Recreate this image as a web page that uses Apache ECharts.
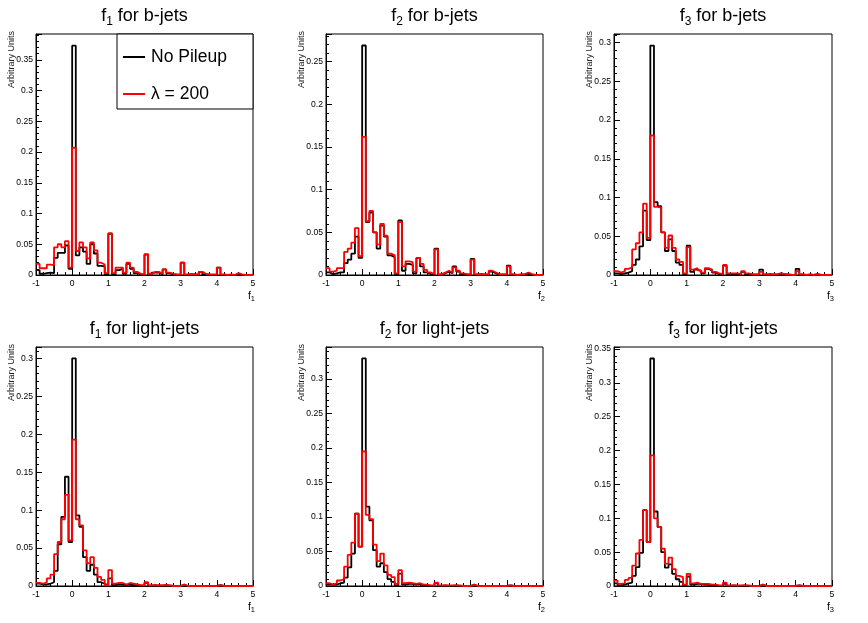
<!DOCTYPE html>
<html>
<head>
<meta charset="utf-8">
<script src="https://cdn.jsdelivr.net/npm/echarts@6/dist/echarts.min.js"></script>
<style>html,body{margin:0;padding:0;background:#fff}#c{width:868px;height:623px}</style>
</head>
<body>
<div id="c"></div>
<script>
// ---------- data ----------
const binEdges = Array.from({length: 61}, (_, i) => Math.round((-1 + i * 0.1) * 10) / 10);
const xTickLabels = ['-1', '0', '1', '2', '3', '4', '5'];
const seriesNames = ['No Pileup', 'λ = 200'];
const panelVars = ['1', '2', '3', '1', '2', '3'];
const panelJets = ['for b-jets', 'for b-jets', 'for b-jets', 'for light-jets', 'for light-jets', 'for light-jets'];
const yAxisMax = [0.392, 0.2825, 0.311, 0.315, 0.3465, 0.353];

const f1bNoPU = [0.008,0.002,0.003,0.004,0.003,0.028,0.036,0.036,0.048,0.010,
  0.373,0.032,0.045,0.038,0.018,0.050,0.035,0.015,0.014,0.001,
  0.067,0.001,0.008,0.010,0.002,0.018,0.010,0.003,0.001,0.000,
  0.033,0.000,0.004,0.004,0.001,0.009,0.003,0.001,0.000,0.000,
  0.020,0.000,0.001,0.001,0.000,0.005,0.001,0.000,0.000,0.000,
  0.012,0.000,0.000,0.000,0.000,0.002,0.000,0.000,0.000,0.000];
const f1bPU = [0.018,0.011,0.011,0.017,0.016,0.045,0.050,0.045,0.055,0.012,
  0.207,0.039,0.053,0.045,0.027,0.053,0.040,0.020,0.017,0.003,
  0.068,0.003,0.012,0.012,0.004,0.020,0.012,0.005,0.002,0.001,
  0.034,0.002,0.005,0.005,0.002,0.009,0.004,0.002,0.001,0.001,
  0.020,0.001,0.002,0.001,0.001,0.005,0.002,0.001,0.001,0.001,
  0.012,0.001,0.000,0.001,0.000,0.003,0.001,0.000,0.000,0.000];

const f2bNoPU = [0.003,0.001,0.002,0.003,0.003,0.014,0.018,0.025,0.045,0.020,
  0.269,0.062,0.073,0.050,0.031,0.058,0.045,0.023,0.021,0.001,
  0.064,0.005,0.013,0.012,0.002,0.020,0.010,0.003,0.001,0.000,
  0.031,0.000,0.002,0.004,0.002,0.010,0.004,0.001,0.000,0.000,
  0.019,0.000,0.001,0.000,0.000,0.004,0.002,0.000,0.000,0.000,
  0.011,0.000,0.000,0.000,0.000,0.002,0.000,0.000,0.000,0.000];
const f2bPU = [0.008,0.004,0.005,0.008,0.008,0.027,0.031,0.038,0.055,0.022,
  0.162,0.063,0.075,0.050,0.036,0.060,0.046,0.025,0.023,0.002,
  0.062,0.010,0.016,0.015,0.004,0.020,0.013,0.006,0.003,0.001,
  0.030,0.001,0.003,0.005,0.003,0.009,0.005,0.002,0.001,0.001,
  0.018,0.001,0.001,0.001,0.001,0.005,0.003,0.001,0.001,0.001,
  0.010,0.001,0.000,0.001,0.001,0.003,0.001,0.000,0.000,0.000];

const f3bNoPU = [0.002,0.001,0.002,0.003,0.005,0.013,0.020,0.037,0.083,0.045,
  0.296,0.094,0.089,0.055,0.031,0.046,0.031,0.016,0.013,0.001,
  0.038,0.004,0.007,0.005,0.002,0.008,0.006,0.003,0.001,0.000,
  0.012,0.001,0.001,0.001,0.001,0.004,0.001,0.000,0.000,0.000,
  0.007,0.000,0.001,0.000,0.000,0.002,0.001,0.000,0.000,0.000,
  0.008,0.000,0.000,0.000,0.000,0.001,0.000,0.000,0.000,0.000];
const f3bPU = [0.005,0.003,0.005,0.008,0.010,0.033,0.041,0.055,0.092,0.048,
  0.180,0.088,0.087,0.055,0.035,0.051,0.035,0.020,0.017,0.002,
  0.036,0.007,0.009,0.006,0.003,0.009,0.007,0.004,0.002,0.001,
  0.013,0.002,0.002,0.002,0.001,0.005,0.002,0.001,0.001,0.001,
  0.004,0.001,0.001,0.001,0.001,0.002,0.001,0.001,0.000,0.000,
  0.005,0.001,0.000,0.001,0.000,0.001,0.000,0.000,0.000,0.000];

const f1lNoPU = [0.003,0.002,0.002,0.003,0.005,0.020,0.055,0.091,0.144,0.058,
  0.300,0.093,0.078,0.038,0.020,0.028,0.015,0.005,0.003,0.001,
  0.010,0.001,0.002,0.002,0.001,0.002,0.001,0.001,0.000,0.000,
  0.004,0.000,0.001,0.000,0.000,0.001,0.000,0.000,0.000,0.000,
  0.002,0.000,0.000,0.000,0.000,0.000,0.000,0.000,0.000,0.000,
  0.001,0.000,0.000,0.000,0.000,0.000,0.000,0.000,0.000,0.000];
const f1lPU = [0.004,0.003,0.005,0.010,0.015,0.042,0.058,0.088,0.120,0.060,
  0.193,0.088,0.080,0.047,0.030,0.038,0.024,0.012,0.008,0.001,
  0.021,0.003,0.004,0.004,0.002,0.004,0.003,0.002,0.001,0.001,
  0.005,0.001,0.001,0.001,0.001,0.001,0.001,0.000,0.000,0.000,
  0.002,0.000,0.000,0.000,0.000,0.000,0.000,0.000,0.000,0.000,
  0.001,0.000,0.000,0.000,0.000,0.000,0.000,0.000,0.000,0.000];

const f2lNoPU = [0.002,0.002,0.002,0.004,0.005,0.012,0.027,0.047,0.105,0.057,
  0.330,0.115,0.095,0.052,0.028,0.033,0.020,0.010,0.006,0.001,
  0.018,0.002,0.003,0.003,0.002,0.003,0.001,0.001,0.000,0.000,
  0.004,0.000,0.001,0.000,0.000,0.001,0.000,0.000,0.000,0.000,
  0.002,0.000,0.000,0.000,0.000,0.000,0.000,0.000,0.000,0.000,
  0.001,0.000,0.000,0.000,0.000,0.000,0.000,0.000,0.000,0.000];
const f2lPU = [0.004,0.002,0.004,0.008,0.010,0.028,0.045,0.063,0.105,0.057,
  0.195,0.103,0.097,0.060,0.036,0.047,0.030,0.016,0.013,0.003,
  0.023,0.004,0.005,0.004,0.003,0.004,0.002,0.002,0.001,0.001,
  0.005,0.001,0.001,0.001,0.001,0.001,0.001,0.000,0.000,0.000,
  0.002,0.000,0.000,0.000,0.000,0.000,0.000,0.000,0.000,0.000,
  0.001,0.000,0.000,0.000,0.000,0.000,0.000,0.000,0.000,0.000];

const f3lNoPU = [0.004,0.001,0.002,0.004,0.005,0.015,0.028,0.049,0.112,0.065,
  0.336,0.110,0.087,0.050,0.027,0.032,0.018,0.010,0.006,0.001,
  0.014,0.002,0.003,0.003,0.002,0.002,0.001,0.001,0.000,0.000,
  0.003,0.000,0.001,0.000,0.000,0.001,0.000,0.000,0.000,0.000,
  0.002,0.000,0.000,0.000,0.000,0.000,0.000,0.000,0.000,0.000,
  0.001,0.000,0.000,0.000,0.000,0.000,0.000,0.000,0.000,0.000];
const f3lPU = [0.008,0.003,0.004,0.009,0.012,0.030,0.048,0.068,0.112,0.065,
  0.193,0.100,0.087,0.055,0.033,0.042,0.025,0.015,0.013,0.002,
  0.018,0.004,0.005,0.003,0.003,0.003,0.002,0.002,0.001,0.001,
  0.005,0.001,0.001,0.001,0.001,0.001,0.001,0.000,0.000,0.000,
  0.002,0.000,0.000,0.000,0.000,0.000,0.000,0.000,0.000,0.000,
  0.001,0.000,0.000,0.000,0.000,0.000,0.000,0.000,0.000,0.000];

const noPileup = [f1bNoPU, f2bNoPU, f3bNoPU, f1lNoPU, f2lNoPU, f3lNoPU];
const pileup200 = [f1bPU, f2bPU, f3bPU, f1lPU, f2lPU, f3lPU];

// ---------- layout ----------
const FONT = '"Liberation Sans", Arial, Helvetica, sans-serif';
const grids = [
  {left: 36, top: 34, width: 217, height: 241},
  {left: 326, top: 34, width: 217, height: 241},
  {left: 614, top: 34, width: 218, height: 241},
  {left: 36, top: 347, width: 217, height: 239},
  {left: 326, top: 347, width: 217, height: 239},
  {left: 614, top: 347, width: 218, height: 239}
];

function histData(vals) {
  return binEdges.map((x, i) => [x, vals[Math.min(i, vals.length - 1)]]);
}

const option = {
  animation: false,
  backgroundColor: '#fff',
  textStyle: {fontFamily: FONT},
  title: grids.map((g, i) => ({
    text: '{m|f}{s|' + panelVars[i] + '}{m| ' + panelJets[i] + '}',
    left: g.left + g.width / 2,
    top: g.top - 28.5,
    textAlign: 'center',
    padding: 0,
    textStyle: {
      fontWeight: 'normal',
      rich: {
        m: {fontSize: 18, lineHeight: 22, fontFamily: FONT, fontWeight: 'normal', color: '#000'},
        s: {fontSize: 12, lineHeight: 12, verticalAlign: 'bottom', fontFamily: FONT, fontWeight: 'normal', color: '#000'}
      }
    }
  })),
  legend: {
    data: seriesNames,
    orient: 'vertical',
    left: 123,
    top: 47,
    itemWidth: 22,
    itemHeight: 2,
    icon: 'rect',
    itemGap: 17,
    padding: 0,
    z: 5,
    textStyle: {fontSize: 17.5, lineHeight: 20, fontFamily: FONT, color: '#000', padding: [0, 0, 0, 1]}
  },
  grid: grids.map(g => Object.assign({show: true, borderColor: '#000', borderWidth: 1, backgroundColor: 'transparent'}, g)),
  xAxis: grids.map((g, i) => ({
    type: 'value',
    gridIndex: i,
    min: -1, max: 5, interval: 1,
    axisLine: {onZero: false, lineStyle: {color: '#000', width: 1}},
    axisTick: {inside: true, length: 6, lineStyle: {color: '#000'}},
    minorTick: {show: true, splitNumber: 5, length: 3, lineStyle: {color: '#000'}},
    splitLine: {show: false},
    axisLabel: {
      fontSize: 8.6, color: '#000', margin: 4, fontFamily: FONT,
      formatter: v => xTickLabels[Math.round(v) + 1]
    }
  })),
  yAxis: grids.map((g, i) => ({
    type: 'value',
    gridIndex: i,
    position: 'left',
    min: 0, max: yAxisMax[i], interval: 0.05,
    axisLine: {show: true, onZero: false, lineStyle: {color: '#000', width: 1}},
    axisTick: {inside: true, length: 6, lineStyle: {color: '#000'}},
    minorTick: {show: true, splitNumber: 5, length: 3, lineStyle: {color: '#000'}},
    splitLine: {show: false},
    axisLabel: {fontSize: 8.6, color: '#000', margin: 3, fontFamily: FONT, showMaxLabel: false}
  })),
  series: [],
  graphic: []
};

grids.forEach((g, i) => {
  option.series.push({
    type: 'line', name: seriesNames[0], xAxisIndex: i, yAxisIndex: i,
    step: 'end', symbol: 'none', data: histData(noPileup[i]),
    lineStyle: {color: '#000', width: 1.8}, itemStyle: {color: '#000'}
  });
  option.series.push({
    type: 'line', name: seriesNames[1], xAxisIndex: i, yAxisIndex: i,
    step: 'end', symbol: 'none', data: histData(pileup200[i]),
    lineStyle: {color: '#ff0000', width: 1.8}, itemStyle: {color: '#ff0000'}
  });
  option.graphic.push({
    type: 'text', x: g.left - 24, y: g.top - 3, rotation: Math.PI / 2,
    style: {text: 'Arbitrary Units', fontSize: 9, fontFamily: FONT, fill: '#222', align: 'right', verticalAlign: 'middle'}
  });
  option.graphic.push({
    type: 'text', x: g.left + g.width + 2, y: g.top + g.height + 21,
    style: {
      text: '{m|f}{s|' + panelVars[i] + '}', align: 'right', verticalAlign: 'middle',
      rich: {
        m: {fontSize: 10.5, lineHeight: 13, fontFamily: FONT, fill: '#000'},
        s: {fontSize: 7.5, lineHeight: 8, verticalAlign: 'bottom', fontFamily: FONT, fill: '#000'}
      }
    }
  });
});

// legend frame
option.graphic.push({
  type: 'rect', z: 3,
  shape: {x: 117, y: 34, width: 136, height: 75},
  style: {fill: '#fff', stroke: '#000', lineWidth: 1}
});

const chart = echarts.init(document.getElementById('c'), null, {renderer: 'canvas'});
chart.setOption(option);
</script>
</body>
</html>
